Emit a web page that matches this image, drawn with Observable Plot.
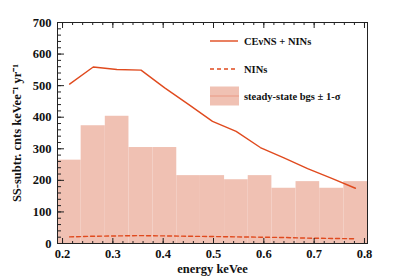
<!DOCTYPE html>
<html>
<head>
<meta charset="utf-8">
<script src="https://cdn.jsdelivr.net/npm/d3@7"></script>
<script src="https://cdn.jsdelivr.net/npm/@observablehq/plot@0.6"></script>
<style>
  html, body { margin: 0; padding: 0; background: #fff; }
  svg { font-family: "Liberation Serif", "DejaVu Serif", serif; font-weight: bold; }
</style>
</head>
<body>
<div id="chart"></div>
<script>
// bin edges (keVee) and steady-state background per bin
const binLo = [0.190, 0.237, 0.285, 0.332, 0.380, 0.427, 0.474, 0.522, 0.569, 0.616, 0.664, 0.711, 0.759];
const binHi = [0.237, 0.285, 0.332, 0.380, 0.427, 0.474, 0.522, 0.569, 0.616, 0.664, 0.711, 0.759, 0.806];
const bgs   = [264, 373, 403, 304, 304, 215, 215, 202, 215, 175, 196, 175, 196];
// bin centers and signal curves
const energy  = [0.214, 0.261, 0.308, 0.356, 0.403, 0.451, 0.498, 0.545, 0.593, 0.640, 0.687, 0.735, 0.782];
const cevnsNins = [505, 559, 551, 549, 493, 440, 387, 355, 304, 271, 237, 206, 175];
const nins      = [21, 23, 24, 25, 24, 23, 22, 21, 20, 19, 17, 16, 15];
const xMajor = [0.2, 0.3, 0.4, 0.5, 0.6, 0.7, 0.8];
const xMinor = [0.2,0.22,0.24,0.26,0.28,0.3,0.32,0.34,0.36,0.38,0.4,0.42,0.44,0.46,0.48,0.5,0.52,0.54,0.56,0.58,0.6,0.62,0.64,0.66,0.68,0.7,0.72,0.74,0.76,0.78,0.8];
const yMajor = [0, 100, 200, 300, 400, 500, 600, 700];
const yMinor = [0,20,40,60,80,100,120,140,160,180,200,220,240,260,280,300,320,340,360,380,400,420,440,460,480,500,520,540,560,580,600,620,640,660,680,700];

const red = "#e04a1e";
const fillC = "#f0c1b3";

const bins = binLo.map((lo, i) => ({lo, hi: binHi[i], v: bgs[i]}));
const curve = energy.map((e, i) => ({e, s: cevnsNins[i], n: nins[i]}));

const chart = Plot.plot({
  width: 408, height: 277,
  marginLeft: 57, marginRight: 41, marginTop: 22, marginBottom: 34,
  style: {fontFamily: '"Liberation Serif", serif', fontWeight: "bold", fontSize: "12px", color: "#111"},
  x: {domain: [0.19, 0.806]},
  y: {domain: [0, 700]},
  marks: [
    Plot.rectY(bins, {x1: "lo", x2: "hi", y: "v", fill: fillC, inset: 0}),
    Plot.line(curve, {x: "e", y: "s", stroke: red, strokeWidth: 1.4}),
    Plot.line(curve, {x: "e", y: "n", stroke: red, strokeWidth: 1.4, strokeDasharray: "4,3"}),
    Plot.frame({stroke: "#222", strokeWidth: 1}),
    // tick labels
    Plot.axisY(yMajor, {anchor: "left", tickSize: 0, tickPadding: 6, fontSize: 12.5, label: "SS-subtr. cnts keVee⁻¹ yr⁻¹", labelArrow: false, labelAnchor: "center", labelOffset: 45, tickFormat: d3.format("d")}),
    Plot.axisX(xMajor, {anchor: "bottom", tickSize: 0, tickPadding: 6, fontSize: 12.5, label: "energy keVee", labelArrow: false, labelAnchor: "center", labelOffset: 29, tickFormat: d3.format(".1f")}),
    // inward ticks
    Plot.axisY(yMajor, {anchor: "right", frameAnchor: "left", tickSize: 6, text: null, label: null, stroke: "#222"}),
    Plot.axisY(yMinor, {anchor: "right", frameAnchor: "left", tickSize: 3, text: null, label: null, stroke: "#222"}),
    Plot.axisX(xMajor, {anchor: "top", frameAnchor: "bottom", tickSize: 6, text: null, label: null, stroke: "#222"}),
    Plot.axisX(xMinor, {anchor: "top", frameAnchor: "bottom", tickSize: 3, text: null, label: null, stroke: "#222"}),
    Plot.axisX(xMajor, {anchor: "bottom", frameAnchor: "top", tickSize: 6, text: null, label: null, stroke: "#222"}),
    Plot.axisX(xMinor, {anchor: "bottom", frameAnchor: "top", tickSize: 3, text: null, label: null, stroke: "#222"})
  ]
});
document.getElementById("chart").appendChild(chart);

// legend drawn inside the frame
const svg = d3.select(chart);
const lg = svg.append("g").attr("font-family", '"Liberation Serif", serif').attr("font-weight", "bold").attr("font-size", "10.5px").attr("fill", "#111").attr("text-anchor", "start");
const rows = [
  {label: "CEνNS + NINs", kind: "solid", y: 41},
  {label: "NINs", kind: "dash", y: 69},
  {label: "steady-state bgs ± 1-σ", kind: "box", y: 96}
];
rows.forEach(r => {
  if (r.kind === "box") {
    lg.append("rect").attr("x", 210).attr("y", r.y - 9.5).attr("width", 29).attr("height", 19).attr("fill", fillC);
    lg.append("line").attr("x1", 210).attr("x2", 239).attr("y1", r.y).attr("y2", r.y).attr("stroke", "#e89078").attr("stroke-width", 0.8);
  } else {
    lg.append("line").attr("x1", 210).attr("x2", 238).attr("y1", r.y).attr("y2", r.y)
      .attr("stroke", red).attr("stroke-width", 1.4)
      .attr("stroke-dasharray", r.kind === "dash" ? "4,3" : null);
  }
  lg.append("text").attr("x", 244).attr("y", r.y).attr("dy", "0.35em").attr("text-anchor", "start").text(r.label);
});
</script>
</body>
</html>
